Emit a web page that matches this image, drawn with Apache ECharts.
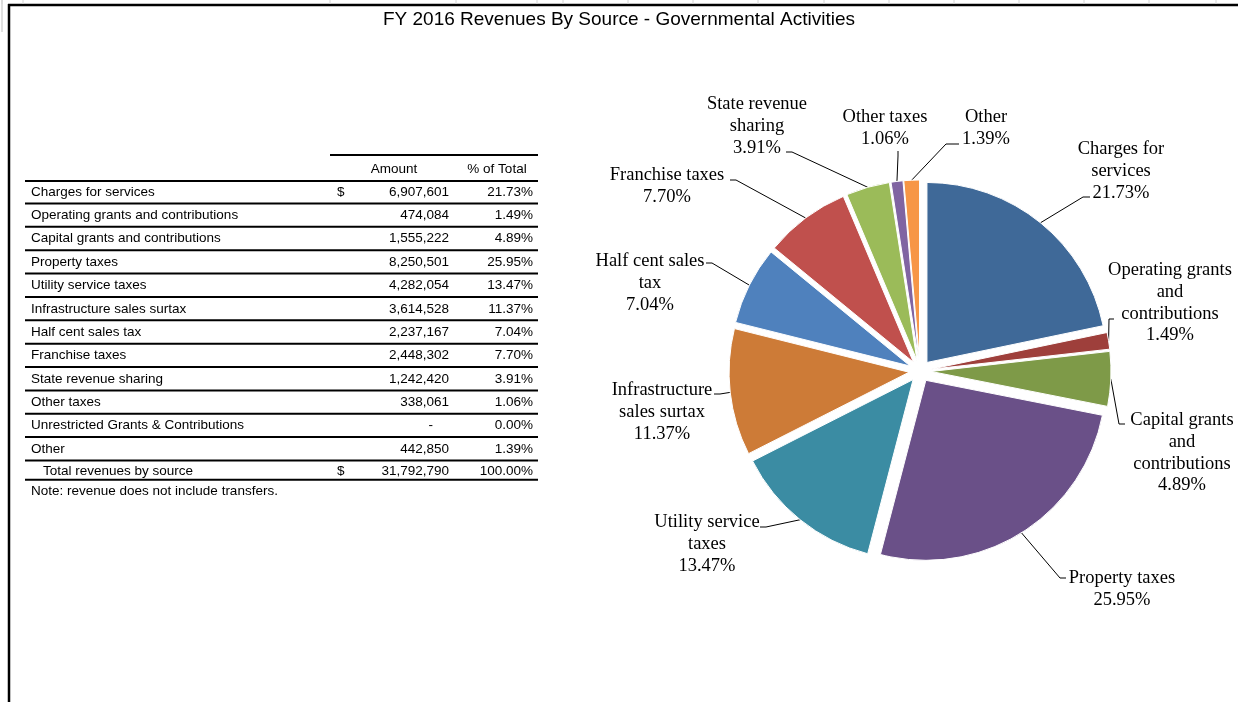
<!DOCTYPE html>
<html><head><meta charset="utf-8">
<script src="https://cdn.jsdelivr.net/npm/echarts@6/dist/echarts.min.js"></script>
<style>html,body{margin:0;padding:0;background:#fff;}#chart{width:1238px;height:702px;}</style>
</head><body><div id="chart"></div>
<script>
// ---------------- data ----------------
const titleText = 'FY 2016 Revenues By Source - Governmental Activities';
const categories = ['Charges for services','Operating grants and contributions','Capital grants and contributions','Property taxes','Utility service taxes','Infrastructure sales surtax','Half cent sales tax','Franchise taxes','State revenue sharing','Other taxes','Unrestricted Grants & Contributions','Other'];
const amounts = [6907601,474084,1555222,8250501,4282054,3614528,2237167,2448302,1242420,338061,0,442850];
const percents = [21.73,1.49,4.89,25.95,13.47,11.37,7.04,7.70,3.91,1.06,0.00,1.39];
const totalLabel = 'Total revenues by source';
const totalAmount = 31792790;
const totalPercent = 100.00;
const headerAmount = 'Amount';
const headerPercent = '% of Total';
const noteText = 'Note: revenue does not include transfers.';
const pieLabels = ['Charges for\nservices','Operating grants\nand\ncontributions','Capital grants\nand\ncontributions','Property taxes','Utility service\ntaxes','Infrastructure\nsales surtax','Half cent sales\ntax','Franchise taxes','State revenue\nsharing','Other taxes','','Other'];

// ---------------- styles / layout ----------------
const sliceColors = ['#3F6998','#9E3F3B','#7E9A48','#6A5088','#3B8CA3','#CD7B37','#4F81BD','#C0504D','#9BBB59','#8064A2','#4BACC6','#F79646'];
const PIE_CENTER = [920, 371], PIE_R = 180, EXPLODE = 11;
// label block centres (screen px)
const labelPos = [[1121,171],[1170,303],[1182,453],[1122,589],[707,544],[662,412],[650,283],[667,186],[757,126],[885,128],[0,0],[986,128]];
// leader-line end at the label [endX, endY, bendX, bendY]
const leaderEnd = [[1090,197,1083,197],[1114,319,1109,319],[1125,424,1119,424],[1066,578,1060,578],[760,527,766,527],[714,394,720,394],[706,263,712,263],[730,180,736,180],[786,152,792,152],[898,151,898,156],[0,0,0,0],[959,144,946,144]];

function fmt(n){ return String(n).replace(/\B(?=(\d{3})+(?!\d))/g, ','); }

const pieIdx = [];
amounts.forEach((v,i)=>{ if (v > 0) pieIdx.push(i); });
const pieData = pieIdx.map(i => ({
  name: categories[i], value: amounts[i], selected: true,
  itemStyle: { color: sliceColors[i] }
}));

// ---------------- table graphics ----------------
const tf = 'Liberation Sans';
const tfs = 13.5;
const rowY0 = 192, pitch = 23.36;
const g = [];
function txt(x, y, s, align){ g.push({ type:'text', x:x, y:y, silent:true, style:{ text:s, fontFamily:tf, fontSize:tfs, fill:'#000', align:align||'left', verticalAlign:'middle' } }); }
function ln(x1, y1, x2, y2, w){ g.push({ type:'line', silent:true, shape:{x1:x1,y1:y1,x2:x2,y2:y2}, style:{ stroke:'#000', lineWidth:w||2 } }); }

// frame
ln(8, 5, 1238, 5, 2.5);
ln(9, 4, 9, 702, 2.5);
[2,23,330,456,537,563,628,693,758,824,889,954,1019,1084,1149,1216].forEach(x => g.push({ type:'line', silent:true, shape:{x1:x, y1:0, x2:x, y2:4}, style:{ stroke:'#d4d4d4', lineWidth:1 } }));
g.push({ type:'line', silent:true, shape:{x1:2, y1:0, x2:2, y2:32}, style:{ stroke:'#d4d4d4', lineWidth:1.5 } });

// header
ln(330, 155, 538, 155, 2);
txt(394, 169, headerAmount, 'center');
txt(497, 169, headerPercent, 'center');
ln(25, 181, 538, 181, 2);

categories.forEach((c, i) => {
  const y = rowY0 + i * pitch;
  txt(31, y, c, 'left');
  if (i === 0) txt(337, y, '$', 'left');
  txt(amounts[i] === 0 ? 433 : 449, y, amounts[i] === 0 ? '-' : fmt(amounts[i]), 'right');
  txt(533, y, percents[i].toFixed(2) + '%', 'right');
  ln(25, y + 11.5, 538, y + 11.5, 2);
});
const yt = rowY0 + categories.length * pitch - 1.5;
txt(43, yt, totalLabel, 'left');
txt(337, yt, '$', 'left');
txt(449, yt, fmt(totalAmount), 'right');
txt(533, yt, totalPercent.toFixed(2) + '%', 'right');
ln(25, yt + 9, 538, yt + 9, 2);
txt(31, yt + 20, noteText, 'left');

// ---------------- chart ----------------
const chart = echarts.init(document.getElementById('chart'), null, { renderer: 'canvas' });
chart.setOption({
  animation: false,
  backgroundColor: '#fff',
  title: { text: titleText, left: 'center', top: 10, padding: 0,
    textStyle: { fontFamily: 'Liberation Sans', fontSize: 19, lineHeight: 19, fontWeight: 'normal', color: '#000' } },
  graphic: g,
  series: [{
    type: 'pie',
    center: PIE_CENTER,
    radius: [0, PIE_R],
    startAngle: 90,
    clockwise: true,
    selectedMode: 'multiple',
    selectedOffset: EXPLODE,
    avoidLabelOverlap: false,
    silent: true,
    itemStyle: { borderColor: '#fff', borderWidth: 1 },
    select: { itemStyle: { borderColor: '#fff', borderWidth: 1 } },
    label: {
      show: true,
      fontFamily: 'Liberation Serif', fontSize: 18.5, lineHeight: 21.7, color: '#000',
      formatter: p => { const i = pieIdx[p.dataIndex]; return pieLabels[i] + '\n' + percents[i].toFixed(2) + '%'; }
    },
    labelLine: { show: true, length: 10, length2: 6, smooth: false, lineStyle: { color: '#000', width: 1 } },
    labelLayout: params => {
      const i = pieIdx[params.dataIndex];
      const p = labelPos[i], e = leaderEnd[i];
      const r = params.labelRect;
      const a0 = params.labelLinePoints ? params.labelLinePoints[0] : [PIE_CENTER[0], PIE_CENTER[1] - PIE_R];
      // explode shift applied afterwards by the selected state
      const vx = a0[0] - PIE_CENTER[0], vy = a0[1] - PIE_CENTER[1];
      const vl = Math.sqrt(vx * vx + vy * vy) || 1;
      const ox = EXPLODE * vx / vl, oy = EXPLODE * vy / vl;
      const anchorX = params.align === 'left' ? r.x : (params.align === 'right' ? r.x + r.width : r.x + r.width / 2);
      return {
        align: 'center',
        dx: p[0] - ox - anchorX,
        dy: p[1] - oy - (r.y + r.height / 2),
        labelLinePoints: [
          [a0[0], a0[1]],
          [e[2] - ox, e[3] - oy],
          [e[0] - ox, e[1] - oy]
        ]
      };
    },
    data: pieData
  }]
});
</script></body></html>
